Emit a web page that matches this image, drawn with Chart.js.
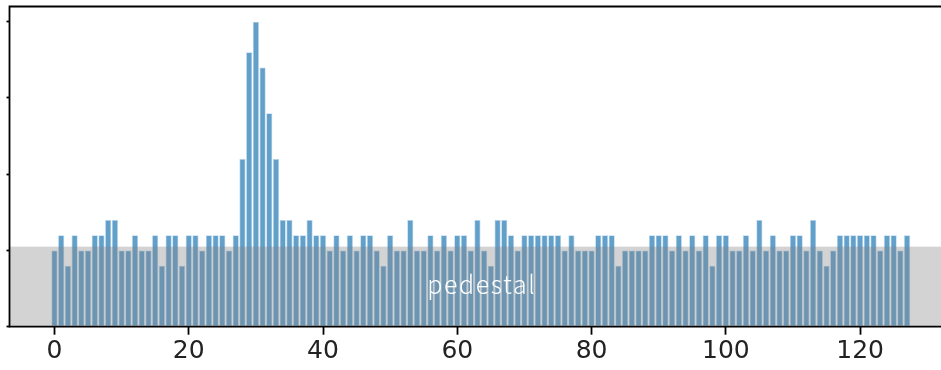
<!DOCTYPE html>
<html>
<head>
<meta charset="utf-8">
<script src="https://cdn.jsdelivr.net/npm/chart.js@4"></script>
<style>
    html, body { margin: 0; padding: 0; background: #ffffff; overflow: hidden; }
    #wrap { position: relative; width: 941px; height: 370px; }
</style>
</head>
<body>
<div id="wrap"><canvas id="histChart"></canvas></div>
<script>
// ============================================================================
// DATA
// ============================================================================

// counts per bin (bins 0..127)
const counts = [
    5, 6, 4, 6, 5, 5, 6, 6, 7, 7, 5, 5, 6, 5, 5, 6, 4, 6, 6, 4,
    6, 6, 5, 6, 6, 6, 5, 6, 11, 18, 20, 17, 14, 11, 7, 7, 6, 6, 7, 6,
    6, 5, 6, 5, 6, 5, 6, 6, 5, 4, 6, 5, 5, 7, 5, 5, 6, 5, 6, 5,
    6, 6, 5, 7, 5, 4, 7, 7, 6, 5, 6, 6, 6, 6, 6, 6, 5, 6, 5, 5,
    5, 6, 6, 6, 4, 5, 5, 5, 5, 6, 6, 6, 5, 6, 5, 6, 5, 6, 4, 6,
    6, 5, 5, 6, 5, 7, 5, 6, 5, 5, 6, 6, 5, 7, 5, 4, 5, 6, 6, 6,
    6, 6, 6, 5, 6, 6, 5, 6
];

const xTicks = [0, 20, 40, 60, 80, 100, 120];
const yTicks = [0, 5, 10, 15, 20];

const PEDESTAL = 5.25;
const PEDESTAL_LABEL = 'pedestal';

// ============================================================================
// PLUGINS
// ============================================================================

// grey pedestal band drawn over the bars, plus its label
const pedestalPlugin = {
    id: 'pedestal',
    afterDatasetsDraw(chart) {
        const { ctx, chartArea, scales } = chart;
        const yTop = scales.y.getPixelForValue(PEDESTAL);
        const yBot = scales.y.getPixelForValue(0);
        ctx.save();
        ctx.fillStyle = 'rgba(128, 128, 128, 0.35)';
        ctx.fillRect(chartArea.left, yTop, chartArea.right - chartArea.left, yBot - yTop);

        const xMid = scales.x.getPixelForValue((counts.length - 1) / 2);
        const yMid = scales.y.getPixelForValue(PEDESTAL / 2);
        ctx.fillStyle = '#ffffff';
        ctx.font = "300 25px 'Noto Sans CJK JP', sans-serif";
        ctx.letterSpacing = '1.6px';
        ctx.textAlign = 'center';
        ctx.textBaseline = 'middle';
        ctx.fillText(PEDESTAL_LABEL, xMid + 1, yMid - 2);
        ctx.restore();
    }
};

// axes frame (left, bottom, top spines)
const framePlugin = {
    id: 'frame',
    afterDraw(chart) {
        const { ctx, chartArea } = chart;
        ctx.save();
        ctx.strokeStyle = '#000000';
        ctx.lineWidth = 1.8;
        ctx.beginPath();
        ctx.moveTo(chartArea.right + 2, chartArea.top);
        ctx.lineTo(chartArea.left, chartArea.top);
        ctx.lineTo(chartArea.left, chartArea.bottom);
        ctx.lineTo(chartArea.right + 2, chartArea.bottom);
        ctx.stroke();
        ctx.restore();
    }
};

// ============================================================================
// CHART
// ============================================================================

function createHistChart() {
    const canvas = document.getElementById('histChart');
    const points = counts.map((v, i) => ({ x: i, y: v }));

    new Chart(canvas, {
        type: 'bar',
        data: {
            datasets: [{
                data: points,
                backgroundColor: 'rgba(31, 119, 180, 0.7)',
                borderColor: 'rgba(175, 210, 235, 0.9)',
                borderWidth: 0.8,
                borderSkipped: false,
                categoryPercentage: 1.0,
                barPercentage: 0.92
            }]
        },
        options: {
            responsive: true,
            maintainAspectRatio: false,
            animation: false,
            layout: { padding: { top: 6.5, right: 0, left: 0, bottom: 0 } },
            plugins: {
                legend: { display: false },
                tooltip: { enabled: false }
            },
            scales: {
                x: {
                    type: 'linear',
                    offset: false,
                    min: -6.7,
                    max: 132.05,
                    afterBuildTicks: scale => {
                        scale.ticks = xTicks.map(v => ({ value: v }));
                    },
                    afterFit: scale => { scale.height = 43.3; },
                    border: { display: false },
                    grid: {
                        offset: false,
                        drawOnChartArea: false,
                        drawTicks: true,
                        tickLength: 8,
                        tickWidth: 1.8,
                        tickColor: '#000000'
                    },
                    ticks: {
                        color: '#222222',
                        padding: 2,
                        maxRotation: 0,
                        font: { family: "'DejaVu Sans', sans-serif", size: 25 }
                    }
                },
                y: {
                    min: 0,
                    max: 21,
                    afterBuildTicks: scale => {
                        scale.ticks = yTicks.map(v => ({ value: v }));
                    },
                    afterFit: scale => { scale.width = 9.5; },
                    border: { display: false },
                    grid: {
                        drawOnChartArea: false,
                        drawTicks: true,
                        tickLength: 3,
                        tickWidth: 1.8,
                        tickColor: '#000000'
                    },
                    ticks: { display: false }
                }
            }
        },
        plugins: [pedestalPlugin, framePlugin]
    });
}

createHistChart();
</script>
</body>
</html>
